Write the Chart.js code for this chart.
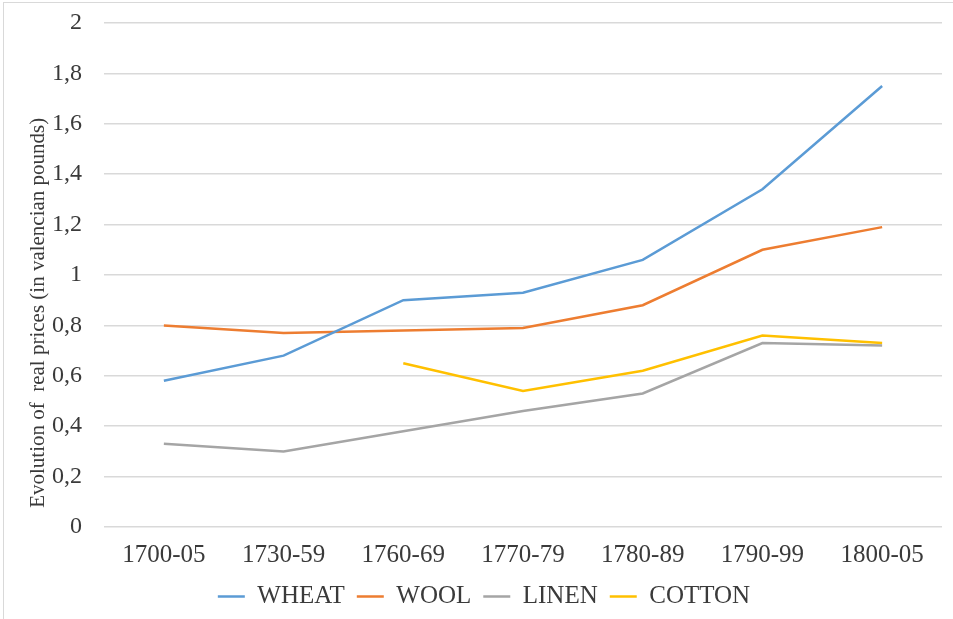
<!DOCTYPE html>
<html>
<head>
<meta charset="utf-8">
<script src="https://cdn.jsdelivr.net/npm/chart.js@4/dist/chart.umd.min.js"></script>
<style>
  html, body { margin: 0; padding: 0; background: #fff; }
  #wrap { position: relative; width: 953px; height: 619px; }
  #frame { position: absolute; left: 3px; top: 2px; right: 0px; bottom: 0px; border: 1px solid #d9d9d9; border-right: none; border-bottom: none; pointer-events: none; }
</style>
</head>
<body>
<div id="wrap">
  <canvas id="chart" width="953" height="619"></canvas>
  <div id="frame"></div>
</div>
<script>
var periods = ['1700-05', '1730-59', '1760-69', '1770-79', '1780-89', '1790-99', '1800-05'];
var wheat  = [0.58, 0.68, 0.90, 0.93, 1.06, 1.34, 1.75];
var wool   = [0.80, 0.77, 0.78, 0.79, 0.88, 1.10, 1.19];
var linen  = [0.33, 0.30, 0.38, 0.46, 0.53, 0.73, 0.72];
var cotton = [null, null, 0.65, 0.54, 0.62, 0.76, 0.73];
var yTitle = 'Evolution of  real prices (in valencian pounds)';

var serif = "'Liberation Serif', 'DejaVu Serif', serif";
var textColor = '#3a3a3a';

function line(label, data, color) {
    return {
        label: label,
        data: data,
        borderColor: color,
        backgroundColor: color,
        borderWidth: 2.5,
        pointRadius: 0,
        tension: 0,
        spanGaps: false
    };
}

// y axis title, drawn a little below the middle like in the original
var yTitlePlugin = {
    id: 'yTitle',
    afterDraw: function(chart) {
        var c = chart.ctx, a = chart.chartArea;
        c.save();
        c.translate(38, a.top + (a.bottom - a.top) * 0.575);
        c.rotate(-Math.PI / 2);
        c.font = '21px ' + serif;
        c.fillStyle = textColor;
        c.textAlign = 'center';
        c.textBaseline = 'middle';
        c.fillText(yTitle, 0, 0);
        c.restore();
    }
};

var ctx = document.getElementById('chart').getContext('2d');
var myChart = new Chart(ctx, {
    type: 'line',
    data: {
        labels: periods,
        datasets: [
            line('WHEAT', wheat, '#5B9BD5'),
            line('WOOL', wool, '#ED7D31'),
            line('LINEN', linen, '#A5A5A5'),
            line('COTTON', cotton, '#FFC000')
        ]
    },
    options: {
        responsive: false,
        animation: false,
        layout: { padding: { left: 26, right: 11, top: 23, bottom: 0 } },
        plugins: {
            legend: {
                position: 'bottom',
                labels: {
                    usePointStyle: true,
                    pointStyle: 'line',
                    pointStyleWidth: 27,
                    boxHeight: 3,
                    padding: 12,
                    color: textColor,
                    font: { family: serif, size: 25 }
                }
            },
            tooltip: { enabled: false }
        },
        scales: {
            x: {
                offset: true,
                grid: { display: false, drawTicks: false },
                border: { display: false },
                ticks: { color: textColor, padding: 13, font: { family: serif, size: 25 } },
                afterFit: function(scale) { scale.height = 45; }
            },
            y: {
                min: 0,
                max: 2,
                grid: { color: '#d9d9d9', lineWidth: 1.5, drawTicks: false },
                border: { display: false },
                ticks: {
                    stepSize: 0.2,
                    padding: 22,
                    color: textColor,
                    font: { family: serif, size: 24 },
                    callback: function(v) { return (Math.round(v * 10) / 10).toString().replace('.', ','); }
                },
                afterFit: function(scale) {
                    scale.width = 78;
                    scale.paddingTop = 0;
                    scale.paddingBottom = 0;
                }
            }
        }
    },
    plugins: [yTitlePlugin]
});
</script>
</body>
</html>
